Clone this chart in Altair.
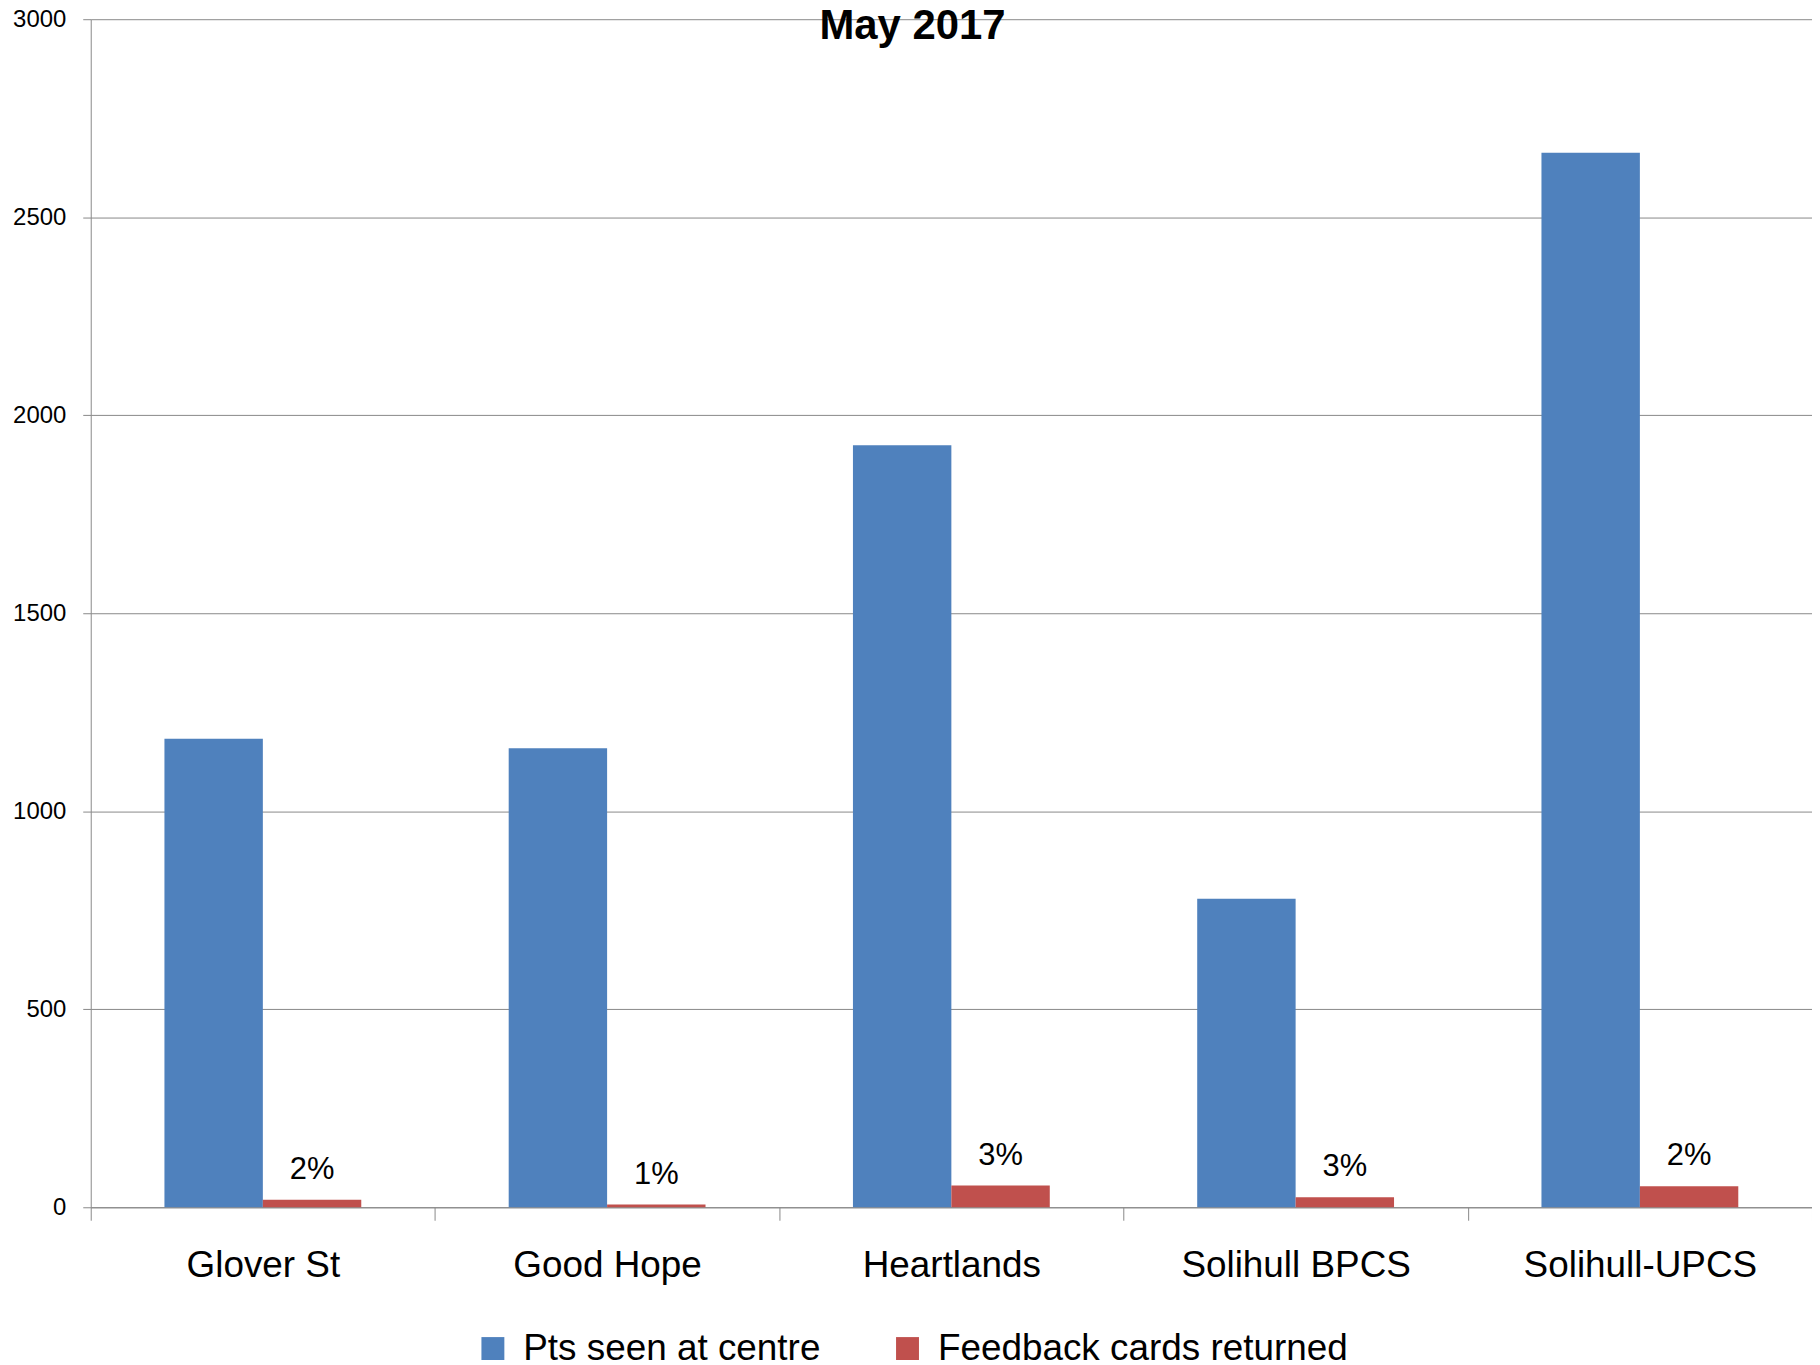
import altair as alt
import pandas as pd

centres = ["Glover St", "Good Hope", "Heartlands", "Solihull BPCS", "Solihull-UPCS"]
pts_seen = [1183, 1159, 1924, 779, 2663]
cards_returned = [19, 7, 55, 25, 53]
pct_labels = ["2%", "1%", "3%", "3%", "2%"]
series = ["Pts seen at centre", "Feedback cards returned"]
colors = ["#4F81BD", "#C0504D"]
y_ticks = [0, 500, 1000, 1500, 2000, 2500, 3000]

rows = []
for c, p, f, lab in zip(centres, pts_seen, cards_returned, pct_labels):
    rows.append({"centre": c, "series": series[0], "value": p, "label": ""})
    rows.append({"centre": c, "series": series[1], "value": f, "label": lab})
df = pd.DataFrame(rows)

FONT = "Liberation Sans"
GRID = "#898989"

base = alt.Chart(df).encode(
    x=alt.X(
        "centre:N",
        sort=centres,
        scale=alt.Scale(paddingInner=0, paddingOuter=0),
        axis=alt.Axis(
            title=None, labelAngle=0, tickBand="extent", tickSize=13,
            labelFontSize=37, labelFont=FONT, labelColor="#000000",
            labelPadding=27, labelLimit=0, domainColor=GRID, tickColor=GRID,
            grid=False,
        ),
    ),
    xOffset=alt.XOffset("series:N", sort=series,
                        scale=alt.Scale(paddingInner=0, paddingOuter=0.749)),
    y=alt.Y(
        "value:Q",
        scale=alt.Scale(domain=[0, 3000], nice=False),
        axis=alt.Axis(
            title=None, values=y_ticks, format="d", tickSize=8, labelPadding=17,
            labelFontSize=24, labelFont=FONT, labelColor="#000000",
            gridColor=GRID, domainColor=GRID, tickColor=GRID,
        ),
    ),
)

bars = base.mark_bar().encode(
    color=alt.Color(
        "series:N",
        sort=series,
        scale=alt.Scale(domain=series, range=colors),
        legend=alt.Legend(
            orient="none", legendX=385, legendY=1315, direction="horizontal",
            title=None, symbolType="square", symbolSize=529,
            symbolStrokeWidth=0, labelFontSize=37, labelFont=FONT,
            labelColor="#000000", labelOffset=12, columnPadding=68,
            labelLimit=0,
        ),
    )
)

labels = base.transform_filter(
    alt.datum.series == series[1]
).mark_text(
    baseline="alphabetic", dy=-21, fontSize=31, font=FONT, color="#000000"
).encode(text="label:N")

chart = alt.layer(bars, labels).properties(
    width=1727,
    height=1192,
    title=alt.Title(
        "May 2017", fontSize=42, font=FONT, fontWeight="bold",
        anchor="middle", frame="bounds", baseline="alphabetic",
        offset=0, dy=74, color="#000000",
    ),
    autosize=alt.AutoSizeParams(type="none"),
    padding={"left": 83, "top": 9, "right": 0, "bottom": 156},
).configure_view(stroke=None)

chart.save("out.html", embed_options={"renderer": "svg", "actions": False})
